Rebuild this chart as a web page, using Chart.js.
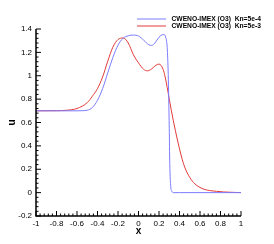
<!DOCTYPE html>
<html>
<head>
<meta charset="utf-8">
<script src="https://cdn.jsdelivr.net/npm/chart.js@4/dist/chart.umd.min.js"></script>
<style>
  html, body { margin: 0; padding: 0; background: #fff; }
  #wrap { width: 274px; height: 244px; }
</style>
</head>
<body>
<div id="wrap"><canvas id="plot"></canvas></div>
<script>
// Kn=5e-4 (blue)
const blueX = [-1, -0.6, -0.55, -0.5, -0.45, -0.4, -0.35, -0.3, -0.25, -0.2, -0.15, -0.1, -0.05, 0, 0.05, 0.1, 0.13, 0.16, 0.2, 0.23, 0.25, 0.265, 0.28, 0.29, 0.3, 0.305, 0.315, 0.325, 0.34, 0.4, 1];
const blueU = [0.7, 0.7, 0.701, 0.705, 0.728, 0.79, 0.89, 1.025, 1.157, 1.262, 1.321, 1.342, 1.348, 1.34, 1.305, 1.265, 1.26, 1.28, 1.33, 1.35, 1.352, 1.33, 1.24, 1.01, 0.55, 0.25, 0.05, 0.012, 0, 0, 0];
// Kn=5e-3 (red)
const redX = [-1, -0.8, -0.7, -0.6, -0.5, -0.45, -0.4, -0.35, -0.3, -0.25, -0.2, -0.15, -0.1, -0.05, 0, 0.05, 0.09, 0.13, 0.17, 0.2, 0.24, 0.26, 0.28, 0.3, 0.32, 0.34, 0.36, 0.38, 0.4, 0.42, 0.45, 0.5, 0.55, 0.63, 0.76, 0.9, 1];
const redU = [0.7, 0.701, 0.705, 0.72, 0.77, 0.825, 0.89, 0.99, 1.125, 1.245, 1.31, 1.323, 1.28, 1.18, 1.11, 1.055, 1.042, 1.06, 1.09, 1.1, 1.055, 0.99, 0.9, 0.8, 0.705, 0.615, 0.53, 0.45, 0.375, 0.305, 0.22, 0.13, 0.075, 0.032, 0.011, 0.003, 0];

const seriesNames = ["CWENO-IMEX (O3)  Kn=5e-4", "CWENO-IMEX (O3)  Kn=5e-3"];
const xTicks = [-1, -0.8, -0.6, -0.4, -0.2, 0, 0.2, 0.4, 0.6, 0.8, 1];
const yTicks = [-0.2, 0, 0.2, 0.4, 0.6, 0.8, 1, 1.2, 1.4];

function pts(xs, ys) {
  return xs.map((x, i) => ({ x: x, y: ys[i] }));
}

// tecplot-like axes: inward major + minor ticks, and the legend at top right
const tecAxes = {
  id: 'tecAxes',
  afterDraw(chart) {
    const ctx = chart.ctx;
    const a = chart.chartArea;
    const xs = chart.scales.x, ys = chart.scales.y;
    ctx.save();
    ctx.strokeStyle = '#000';
    ctx.lineWidth = 1.5;
    ctx.beginPath();
    ctx.moveTo(a.left, a.top);
    ctx.lineTo(a.left, a.bottom);
    ctx.lineTo(a.right, a.bottom);
    ctx.stroke();
    ctx.lineWidth = 1;
    ctx.beginPath();
    for (let i = 0; i < xTicks.length; i++) {
      const px = xs.getPixelForValue(xTicks[i]);
      ctx.moveTo(px, a.bottom);
      ctx.lineTo(px, a.bottom - 5);
      if (i < xTicks.length - 1) {
        for (let k = 1; k < 5; k++) {
          const m = xs.getPixelForValue(xTicks[i] + k * 0.04);
          ctx.moveTo(m, a.bottom);
          ctx.lineTo(m, a.bottom - 2.5);
        }
      }
    }
    for (let i = 0; i < yTicks.length; i++) {
      const py = ys.getPixelForValue(yTicks[i]);
      ctx.moveTo(a.left, py);
      ctx.lineTo(a.left + 5, py);
      if (i < yTicks.length - 1) {
        for (let k = 1; k < 5; k++) {
          const m = ys.getPixelForValue(yTicks[i] + k * 0.04);
          ctx.moveTo(a.left, m);
          ctx.lineTo(a.left + 2.5, m);
        }
      }
    }
    ctx.stroke();

    // legend
    ctx.font = 'bold 6.7px "Liberation Sans", Arial, sans-serif';
    ctx.textBaseline = 'middle';
    ctx.textAlign = 'left';
    chart.data.datasets.forEach((ds, i) => {
      const y = 19 + i * 7;
      ctx.strokeStyle = ds.borderColor;
      ctx.lineWidth = 1;
      ctx.beginPath();
      ctx.moveTo(137, y);
      ctx.lineTo(166, y);
      ctx.stroke();
      ctx.fillStyle = '#000';
      ctx.fillText(ds.label, 171.5, y);
    });
    ctx.restore();
  }
};

new Chart(document.getElementById("plot"), {
  type: 'scatter',
  data: {
    datasets: [
      {
        label: seriesNames[0],
        data: pts(blueX, blueU),
        showLine: true,
        borderColor: "#7b7bff",
        borderWidth: 1,
        pointRadius: 0,
        cubicInterpolationMode: 'monotone'
      },
      {
        label: seriesNames[1],
        data: pts(redX, redU),
        showLine: true,
        borderColor: "#e23a3a",
        borderWidth: 1,
        pointRadius: 0,
        cubicInterpolationMode: 'monotone'
      }
    ]
  },
  options: {
    responsive: true,
    maintainAspectRatio: false,
    animation: false,
    layout: { padding: { left: 6, top: 29, right: 33, bottom: 7 } },
    plugins: {
      legend: { display: false },
      tooltip: { enabled: false }
    },
    scales: {
      x: {
        type: 'linear',
        min: -1,
        max: 1,
        afterBuildTicks: (s) => { s.ticks = xTicks.map(v => ({ value: v })); },
        afterFit: (s) => { s.height = 21; },
        grid: { display: false, drawTicks: false },
        border: { display: false },
        ticks: {
          padding: 3,
          color: '#000',
          font: { family: '"Liberation Sans", Arial', size: 8 },
          maxRotation: 0,
          callback: (v) => String(Math.round(v * 10) / 10)
        },
        title: {
          display: true,
          text: 'x',
          color: '#000',
          padding: 0,
          font: { family: '"Liberation Sans", Arial', size: 10, weight: 'bold' }
        }
      },
      y: {
        type: 'linear',
        min: -0.2,
        max: 1.4,
        afterBuildTicks: (s) => { s.ticks = yTicks.map(v => ({ value: v })); },
        afterFit: (s) => { s.width = 30; },
        grid: { display: false, drawTicks: false },
        border: { display: false },
        ticks: {
          padding: 4,
          color: '#000',
          font: { family: '"Liberation Sans", Arial', size: 8 },
          callback: (v) => String(Math.round(v * 10) / 10)
        },
        title: {
          display: true,
          text: 'u',
          color: '#000',
          padding: 0,
          font: { family: '"Liberation Sans", Arial', size: 10, weight: 'bold' }
        }
      }
    }
  },
  plugins: [tecAxes]
});
</script>
</body>
</html>
